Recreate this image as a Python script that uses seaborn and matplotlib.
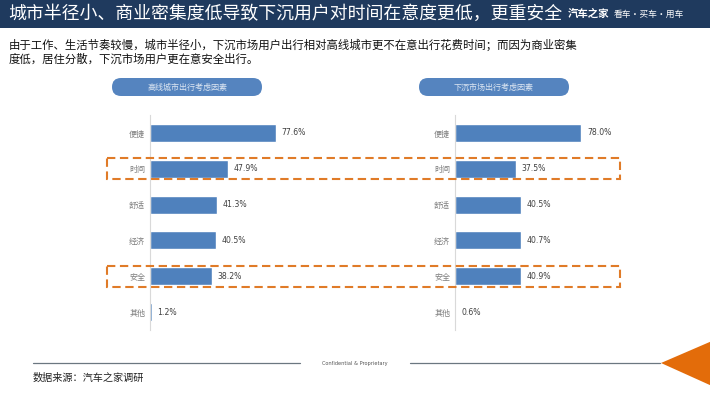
import numpy as np
import pandas as pd
import seaborn as sns
import matplotlib.pyplot as plt
import matplotlib.transforms as mtransforms
from matplotlib.patches import Rectangle, FancyBboxPatch, Polygon

# data
categories = ['便捷', '时间', '舒适', '经济', '安全', '其他']
high_tier = [77.6, 47.9, 41.3, 40.5, 38.2, 1.2]
lower_tier = [78.0, 37.5, 40.5, 40.7, 40.9, 0.6]
highlight = ['时间', '安全']
panel_titles = ['高线城市出行考虑因素', '下沉市场出行考虑因素']

title = '城市半径小、商业密集度低导致下沉用户对时间在意度更低，更重安全'
body_1 = '由于工作、生活节奏较慢，城市半径小，下沉市场用户出行相对高线城市更不在意出行花费时间；而因为商业密集'
body_2 = '度低，居住分散，下沉市场用户更在意安全出行。'
source = '数据来源：汽车之家调研'

sns.set_theme(style='white')
plt.rcParams['font.family'] = ['Noto Sans CJK SC', 'DejaVu Sans']

W, H = 710, 399
fig = plt.figure(figsize=(W / 100, H / 100), dpi=100)
pix = mtransforms.IdentityTransform()  # display pixels, dpi fixed at 100


def fx(px):
    return px / W


def fy(py):
    return 1 - py / H


# title bar
fig.add_artist(Rectangle((0, fy(28)), 1, 28 / H, transform=fig.transFigure,
                         facecolor='#1F3A5E', edgecolor='none'))
fig.text(fx(8), fy(14), title, color='white', fontsize=12.9, va='center', ha='left')
fig.text(fx(568), fy(14), '汽车之家', color='white', fontsize=7.5, fontweight='bold',
         va='center', ha='left')
fig.text(fx(614), fy(14), '看车·买车·用车', color='white', fontsize=6.3, va='center', ha='left')

fig.text(fx(9), fy(45), body_1, color='#111111', fontsize=8.2, va='center', ha='left')
fig.text(fx(9), fy(59), body_2, color='#111111', fontsize=8.2, va='center', ha='left')

bar_color = '#4F81BD'
axes = []
for x_spine, center, vals, ptitle in [(150, 187, high_tier, panel_titles[0]),
                                       (455, 494, lower_tier, panel_titles[1])]:
    ax = fig.add_axes([fx(x_spine), 1 - 330 / H, fx(162), 215 / H])
    sns.barplot(x=vals, y=categories, orient='h', ax=ax, color=bar_color,
                saturation=1, width=0.5)
    ax.set_xlim(0, 100)
    ax.set_ylim(5.5, -0.5)
    ax.set_facecolor('none')
    for s in ['top', 'right', 'bottom']:
        ax.spines[s].set_visible(False)
    ax.spines['left'].set_color('#D9D9D9')
    ax.spines['left'].set_linewidth(0.8)
    ax.set_xticks([])
    ax.set_xlabel('')
    ax.set_ylabel('')
    ax.tick_params(axis='y', length=0, pad=3.5, labelsize=5.8, labelcolor='#7F7F7F')
    ax.bar_label(ax.containers[0], fmt='%.1f%%', padding=4, fontsize=5.6,
                 color='#404040', family=['DejaVu Sans'])
    # panel header pill
    fig.add_artist(FancyBboxPatch((center - 75, H - 96), 150, 18,
                                  boxstyle='round,pad=0,rounding_size=9',
                                  transform=pix,
                                  facecolor='#5584BF', edgecolor='none'))
    fig.text(fx(center), fy(87), ptitle, color='#DCE6F2', fontsize=5.8,
             ha='center', va='center')
    axes.append(ax)

# dashed highlight boxes spanning both panels
blend = mtransforms.blended_transform_factory(fig.transFigure, axes[0].transData)
for cat in highlight:
    i = categories.index(cat)
    fig.add_artist(Rectangle((fx(107), i - 0.3), fx(513), 0.6, transform=blend,
                             fill=False, edgecolor='#E07B28', linewidth=1.5,
                             linestyle=(0, (4, 2.2))))

# footer
fig.add_artist(plt.Line2D([fx(33), fx(300)], [fy(363), fy(363)],
                          transform=fig.transFigure, color='#6B7780', lw=0.9))
fig.add_artist(plt.Line2D([fx(410), fx(660)], [fy(363), fy(363)],
                          transform=fig.transFigure, color='#6B7780', lw=0.9))
fig.text(fx(355), fy(363), 'Confidential & Proprietary', fontsize=3.6,
         color='#555555', ha='center', va='center', family=['DejaVu Sans'])
fig.add_artist(Polygon([[fx(661), fy(363)], [fx(712), fy(341)], [fx(712), fy(386)]],
                       closed=True, transform=fig.transFigure,
                       facecolor='#E36C0A', edgecolor='none'))
fig.text(fx(33), fy(378), source, color='#222222', fontsize=7.3, va='center', ha='left')

fig.savefig('out.png', dpi=100)
